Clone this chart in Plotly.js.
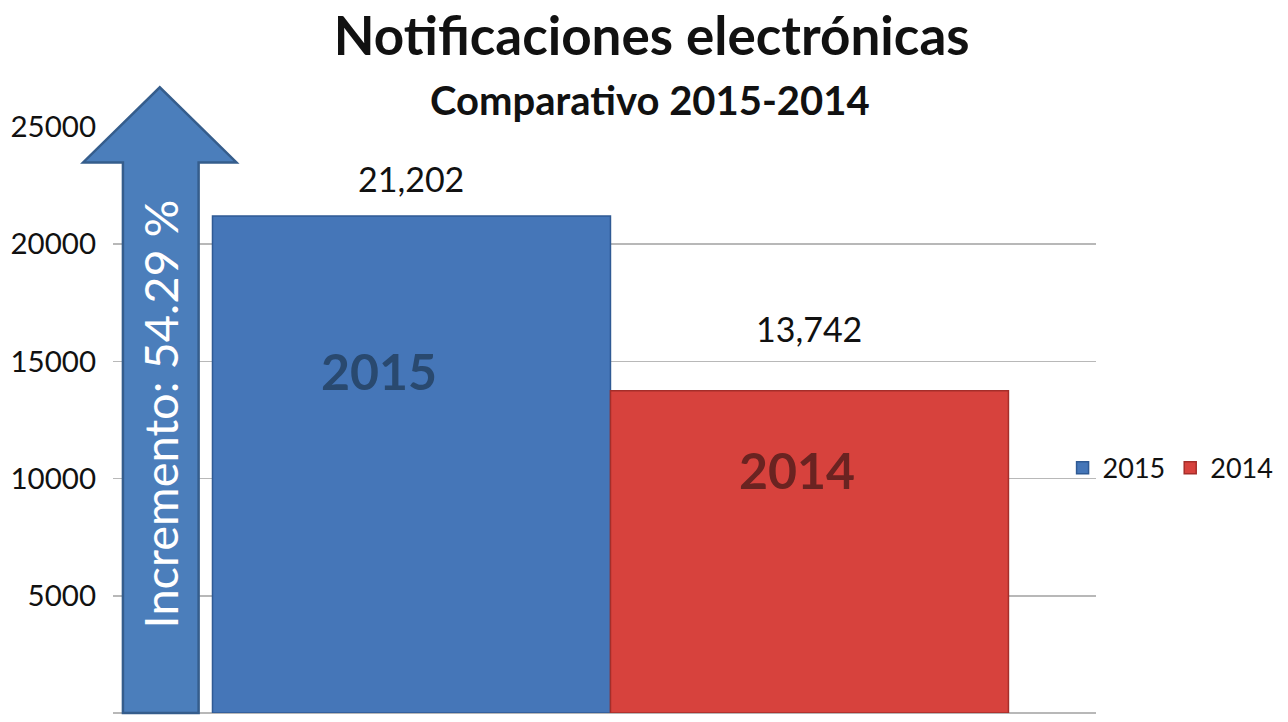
<!DOCTYPE html>
<html><head><meta charset="utf-8">
<script src="https://cdn.plot.ly/plotly-3.0.1.min.js"></script>
<style>html,body{margin:0;padding:0;background:#fff}#chart{width:1288px;height:722px}</style>
</head><body><div id="chart"></div>
<script>
const seriesNames = ['2015', '2014'];
const seriesValues = [21202, 13742];
const seriesColors = ['#4576b8', '#d7423d'];
const seriesLines = ['#2f5a94', '#a52e2a'];
const innerLabelColors = ['#29496f', '#6a2321'];
const yTicks = [0, 5000, 10000, 15000, 20000, 25000];
const arrowText = 'Incremento: 54.29 %';
const titleText = 'Notificaciones electrónicas';
const subtitleText = 'Comparativo 2015-2014';

const FONT = 'Lato, "Open Sans", sans-serif';
const fmt = v => v.toLocaleString('en-US');
const labelShifts = [15, 40];

const traces = seriesNames.map((n, i) => ({
  type: 'bar',
  name: n,
  x: [i],
  y: [seriesValues[i]],
  width: 1,
  marker: {color: seriesColors[i], line: {color: seriesLines[i], width: 1.5}},
  hoverinfo: 'none'
}));

const annotations = [];
seriesNames.forEach((n, i) => {
  annotations.push({x: i, y: seriesValues[i], xref: 'x', yref: 'y', text: fmt(seriesValues[i]),
    showarrow: false, xanchor: 'center', yanchor: 'bottom', yshift: labelShifts[i], font: {family: FONT, size: 34, color: '#111'}});
});
annotations.push({x: 0, y: 14600, xref: 'x', yref: 'y', text: '<b>' + seriesNames[0] + '</b>', showarrow: false,
  xanchor: 'center', yanchor: 'middle', xshift: -32, font: {family: FONT, size: 50, color: innerLabelColors[0]}});
annotations.push({x: 1, y: 10350, xref: 'x', yref: 'y', text: '<b>' + seriesNames[1] + '</b>', showarrow: false,
  xanchor: 'center', yanchor: 'middle', xshift: -12, font: {family: FONT, size: 50, color: innerLabelColors[1]}});
annotations.push({x: 0.0476, y: 0.51, xref: 'paper', yref: 'paper', text: arrowText, showarrow: false,
  xanchor: 'center', yanchor: 'middle', textangle: -90, font: {family: FONT, size: 47, color: '#ffffff'}});
annotations.push({x: 0.546, y: 1.044, xref: 'paper', yref: 'paper', text: '<b>' + subtitleText + '</b>', showarrow: false,
  xanchor: 'center', yanchor: 'middle', font: {family: FONT, size: 40, color: '#111'}});

const arrowPath = 'M 0.0101 0 L 0.0101 0.938 L -0.0304 0.938 L 0.0476 1.066 L 0.1256 0.938 L 0.0871 0.938 L 0.0871 0 Z';

const layout = {
  width: 1288, height: 722,
  margin: {l: 113, r: 188, t: 126, b: 9},
  paper_bgcolor: '#ffffff', plot_bgcolor: '#ffffff',
  font: {family: FONT, color: '#111'},
  title: {text: '<b>' + titleText + '</b>', x: 0.506, xanchor: 'center', y: 0.949, yanchor: 'middle',
    font: {family: FONT, size: 53, color: '#111'}},
  showlegend: true,
  legend: {orientation: 'h', x: 0.966, xanchor: 'left', y: 0.417, yanchor: 'middle',
    font: {family: FONT, size: 27, color: '#111'}, itemwidth: 30, tracegroupgap: 0, bgcolor: 'rgba(0,0,0,0)'},
  barmode: 'overlay',
  xaxis: {type: 'linear', range: [-0.75, 1.72], showticklabels: false, showgrid: false, zeroline: false,
    showline: false, ticks: '', fixedrange: true},
  yaxis: {range: [0, 25040], tickvals: yTicks, ticktext: yTicks.map(String), showgrid: true, gridcolor: '#b8b8b8',
    gridwidth: 1.5, zeroline: true, zerolinecolor: '#b8b8b8', zerolinewidth: 1.5, showline: false,
    ticks: '', ticklabelstandoff: 16, tickfont: {family: FONT, size: 29.5, color: '#111'}, fixedrange: true},
  shapes: [{type: 'path', xref: 'paper', yref: 'paper', path: arrowPath, fillcolor: '#4b7ebb',
    line: {color: '#355d8c', width: 2.5}, layer: 'above'}],
  annotations: annotations
};

Plotly.newPlot('chart', traces, layout, {displayModeBar: false, staticPlot: true});
</script></body></html>
